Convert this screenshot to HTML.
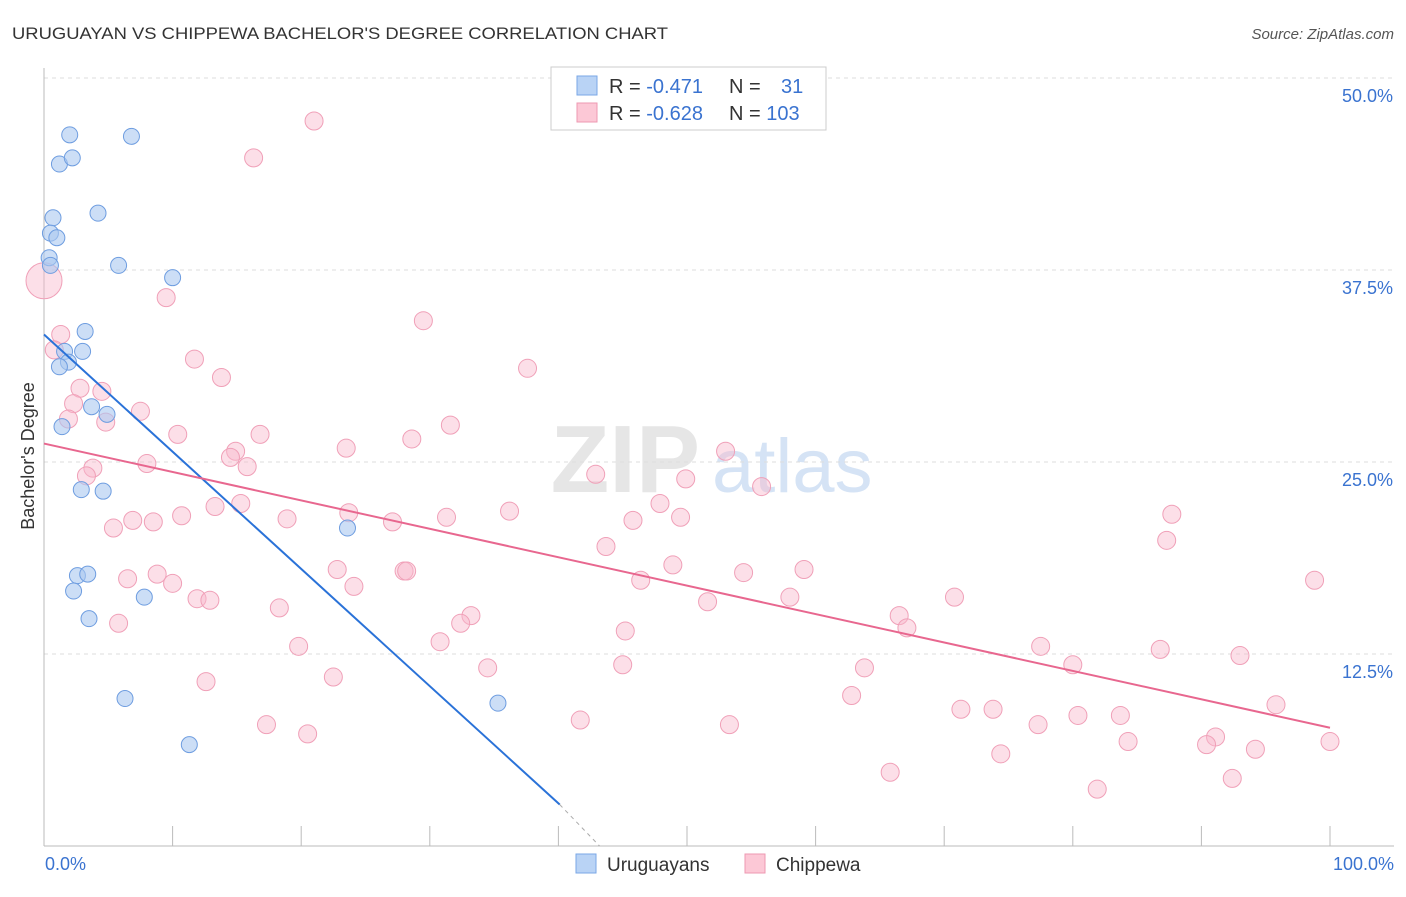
<!DOCTYPE html>
<html><head><meta charset="utf-8"><style>
body{margin:0;background:#fff;font-family:"Liberation Sans",sans-serif;}
svg text{font-family:"Liberation Sans",sans-serif;}
</style></head><body>
<svg id="chart" width="1406" height="892" xmlns="http://www.w3.org/2000/svg">
<text x="12" y="39" font-size="17" fill="#333" textLength="656" lengthAdjust="spacingAndGlyphs">URUGUAYAN VS CHIPPEWA BACHELOR'S DEGREE CORRELATION CHART</text>
<text x="1394" y="39" font-size="15" fill="#555" font-style="italic" text-anchor="end">Source: ZipAtlas.com</text>
<text x="700" y="492" font-size="96" fill="#e6e6e6" font-family="Liberation Serif" text-anchor="end" font-weight="bold">ZIP</text>
<text x="712" y="492" font-size="76" fill="#d5e3f5">atlas</text>
<g id="grid"></g>
<g id="axes"></g>
<g id="marks"></g>
<text transform="translate(34,456) rotate(-90)" font-size="18" fill="#333" text-anchor="middle">Bachelor's Degree</text>
<g>
<rect x="551" y="67" width="275" height="63" fill="#fff" stroke="#ccc"/>
<rect x="577" y="76" width="20" height="19" fill="#b9d3f5" stroke="#7aa7e6"/>
<rect x="577" y="103" width="20" height="19" fill="#fcc8d6" stroke="#ee98b2"/>
<text x="609" y="93" font-size="20" fill="#333">R = <tspan fill="#3a73d0">-0.471</tspan></text>
<text x="729" y="93" font-size="20" fill="#333">N = <tspan fill="#3a73d0" x="781">31</tspan></text>
<text x="609" y="120" font-size="20" fill="#333">R = <tspan fill="#3a73d0">-0.628</tspan></text>
<text x="729" y="120" font-size="20" fill="#333">N = <tspan fill="#3a73d0">103</tspan></text>
</g>
<g>
<rect x="576" y="854" width="20" height="19" fill="#b9d3f5" stroke="#7aa7e6"/>
<text x="607" y="871" font-size="19" fill="#333">Uruguayans</text>
<rect x="745" y="854" width="20" height="19" fill="#fcc8d6" stroke="#ee98b2"/>
<text x="776" y="871" font-size="19" fill="#333">Chippewa</text>
</g>
</svg>
<script>
const yTicks=[12.5,25,37.5,50];
const yTickLabels=["12.5%","25.0%","37.5%","50.0%"];
const xTickLabels=["0.0%","100.0%"];
const blueX=[2.0,6.8,1.2,2.2,4.2,0.7,0.5,1.0,0.4,0.5,5.8,10.0,3.2,3.0,1.6,1.9,1.2,3.7,4.9,1.4,2.9,4.6,23.6,2.6,3.4,2.3,7.8,3.5,6.3,11.3,35.3];
const blueY=[46.3,46.2,44.4,44.8,41.2,40.9,39.9,39.6,38.3,37.8,37.8,37.0,33.5,32.2,32.2,31.5,31.2,28.6,28.1,27.3,23.2,23.1,20.7,17.6,17.7,16.6,16.2,14.8,9.6,6.6,9.3];
const pinkX=[21.0,16.3,0,9.5,29.5,1.3,0.8,11.7,13.8,37.6,2.8,4.5,2.3,1.9,4.8,7.5,10.4,16.8,28.6,31.6,23.5,14.9,14.5,53.0,3.8,3.3,8.0,15.8,42.9,49.9,55.8,15.3,13.3,47.9,23.7,36.2,31.3,10.7,18.9,27.1,45.8,49.5,87.7,5.4,6.9,8.5,87.3,43.7,6.5,8.8,48.9,22.8,59.1,28.0,28.2,54.4,46.4,10.0,24.1,98.8,11.9,12.9,58.0,51.6,70.8,18.3,33.2,66.5,32.4,67.1,5.8,45.2,30.8,19.8,77.5,45.0,93.0,86.8,63.8,34.5,80.0,22.5,12.6,62.8,95.8,41.7,71.3,73.8,80.4,83.7,17.3,53.3,77.3,20.5,91.1,84.3,100,90.4,94.2,74.4,65.8,92.4,81.9];
const pinkY=[47.2,44.8,36.8,35.7,34.2,33.3,32.3,31.7,30.5,31.1,29.8,29.6,28.8,27.8,27.6,28.3,26.8,26.8,26.5,27.4,25.9,25.7,25.3,25.7,24.6,24.1,24.9,24.7,24.2,23.9,23.4,22.3,22.1,22.3,21.7,21.8,21.4,21.5,21.3,21.1,21.2,21.4,21.6,20.7,21.2,21.1,19.9,19.5,17.4,17.7,18.3,18.0,18.0,17.9,17.9,17.8,17.3,17.1,16.9,17.3,16.1,16.0,16.2,15.9,16.2,15.5,15.0,15.0,14.5,14.2,14.5,14.0,13.3,13.0,13.0,11.8,12.4,12.8,11.6,11.6,11.8,11.0,10.7,9.8,9.2,8.2,8.9,8.9,8.5,8.5,7.9,7.9,7.9,7.3,7.1,6.8,6.8,6.6,6.3,6.0,4.8,4.4,3.7];
const blueTrend=[[0,33.3],[40.1,2.7]];
const blueDash=[[40.1,2.7],[43.2,0]];
const pinkTrend=[[0,26.2],[100,7.7]];
const X0=44,X1=1330,Y0=846,Y50=78;
const sx=v=>X0+(X1-X0)*v/100;
const sy=v=>Y0-(Y0-Y50)*v/50;
const NS="http://www.w3.org/2000/svg";
function mk(tag,attrs,parent){const e=document.createElementNS(NS,tag);for(const k in attrs)e.setAttribute(k,attrs[k]);parent.appendChild(e);return e;}
const grid=document.getElementById('grid'),axes=document.getElementById('axes'),marks=document.getElementById('marks');
yTicks.forEach((t,i)=>{
 const l=mk('line',{x1:X0,x2:1394,y1:sy(t),y2:sy(t),stroke:'#ddd','stroke-dasharray':'4,4'},grid);
 
 
 const tx=mk('text',{x:1393,y:sy(t)+24,'font-size':18,fill:'#3a73d0','text-anchor':'end'},axes);
 tx.textContent=yTickLabels[i];
 
 
});
mk('line',{x1:X0,x2:X0,y1:68,y2:Y0,stroke:'#bbb'},axes);
mk('line',{x1:X0,x2:1394,y1:Y0,y2:Y0,stroke:'#bbb'},axes);
for(let i=1;i<=10;i++){const l=mk('line',{x1:sx(i*10),x2:sx(i*10),y1:Y0,y2:Y0-20,stroke:'#bbb'},axes);
 
 }
[[0,'start',45],[100,'end',1394]].forEach((d,i)=>{const t=mk('text',{x:d[2],y:870,'font-size':18,fill:'#3a73d0','text-anchor':d[1]},axes);t.textContent=xTickLabels[i];
 
 });
pinkX.forEach((x,i)=>{const r=(x===0)?18:9;const c=mk('circle',{cx:sx(x),cy:sy(pinkY[i]),r:r,fill:'rgba(249,185,204,0.45)',stroke:'#f0a0b8','stroke-width':1},marks);
 
 });
blueX.forEach((x,i)=>{const c=mk('circle',{cx:sx(x),cy:sy(blueY[i]),r:8,fill:'rgba(170,200,240,0.6)',stroke:'#6e9de0','stroke-width':1},marks);
 
 });
const bl=mk('line',{x1:sx(blueTrend[0][0]),y1:sy(blueTrend[0][1]),x2:sx(blueTrend[1][0]),y2:sy(blueTrend[1][1]),stroke:'#2a72d8','stroke-width':2},marks);


const bd=mk('line',{x1:sx(blueDash[0][0]),y1:sy(blueDash[0][1]),x2:sx(blueDash[1][0]),y2:sy(blueDash[1][1]),stroke:'#aaa','stroke-width':1,'stroke-dasharray':'4,4'},marks);


const pl=mk('line',{x1:sx(pinkTrend[0][0]),y1:sy(pinkTrend[0][1]),x2:sx(pinkTrend[1][0]),y2:sy(pinkTrend[1][1]),stroke:'#e8678f','stroke-width':2},marks);


</script>
</body></html>
